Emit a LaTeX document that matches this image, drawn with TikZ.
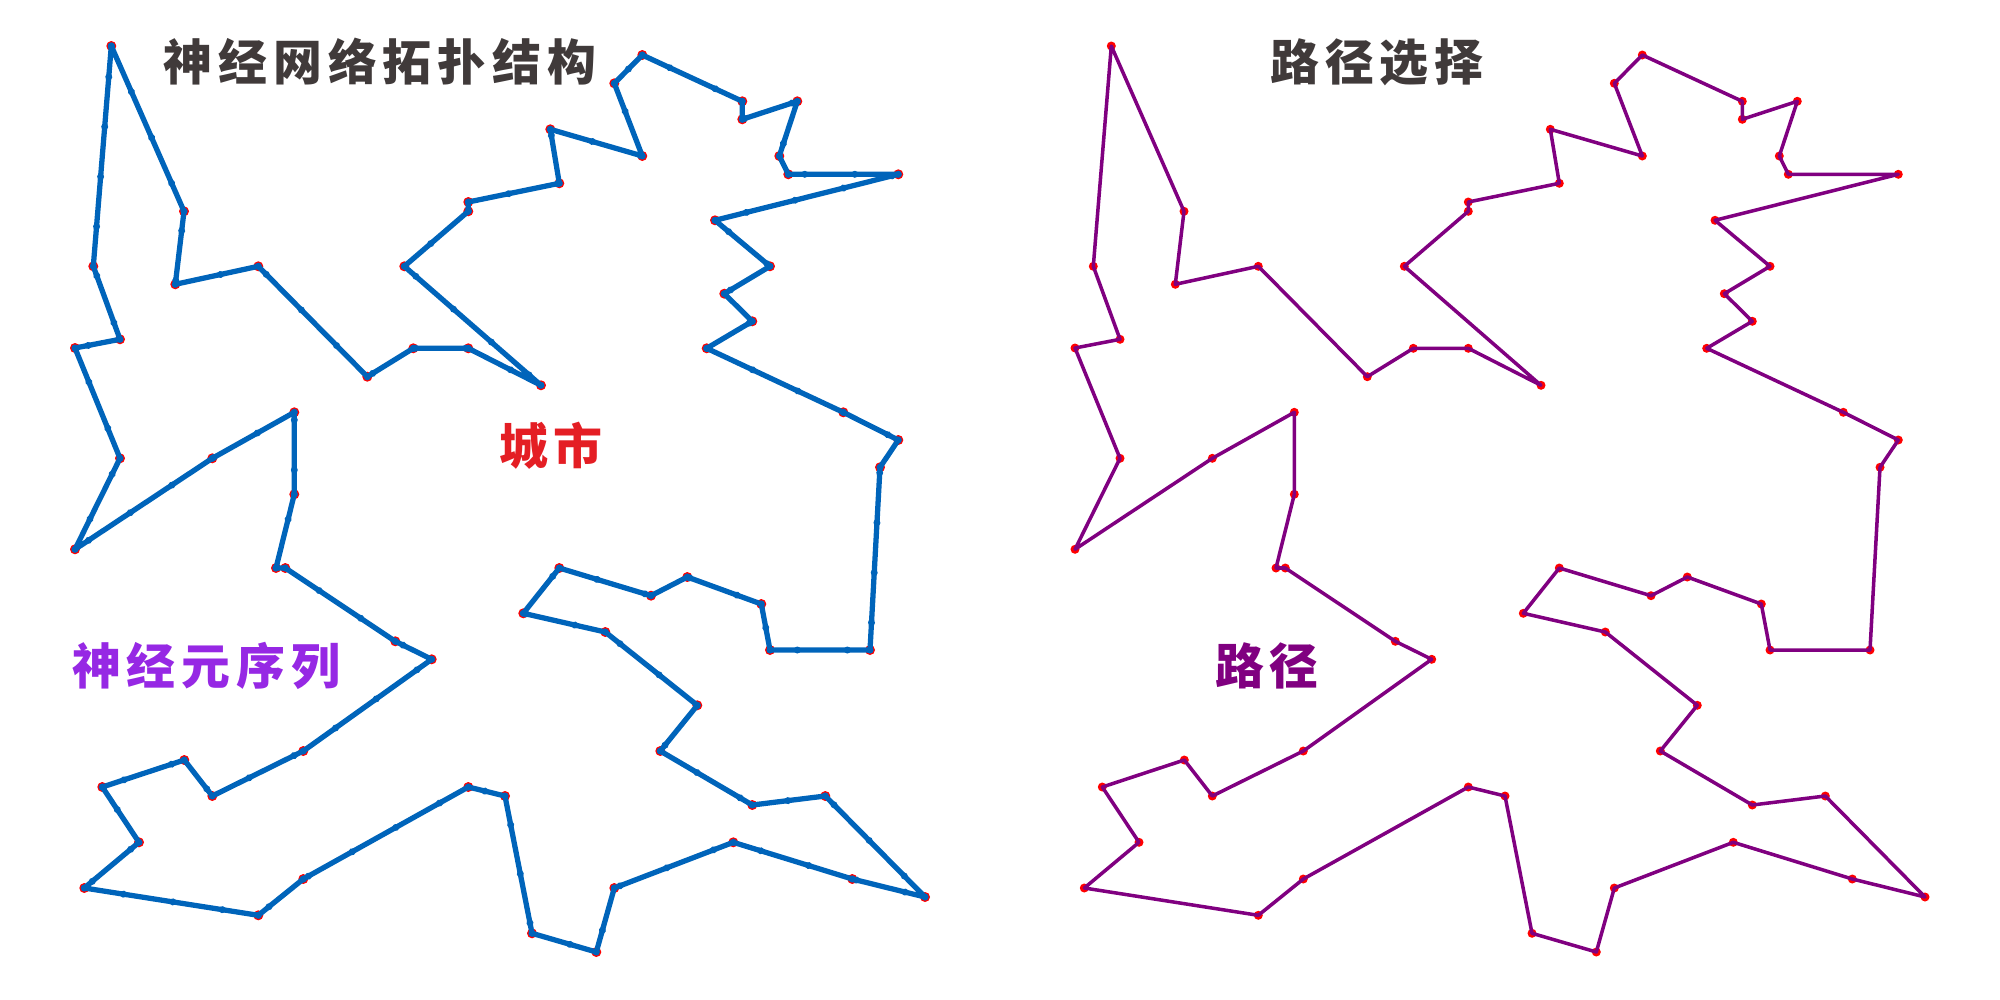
\documentclass[tikz,border=0pt]{standalone}
\usepackage{fontspec}
\newfontfamily\cjk[LetterSpace=12]{Noto Sans CJK SC}
\usetikzlibrary{decorations.markings}
\definecolor{netblue}{RGB}{0,100,186}
\definecolor{routepurple}{RGB}{128,0,128}
\definecolor{cityred}{RGB}{255,0,0}
\definecolor{titlegray}{RGB}{64,58,58}
\definecolor{labelred}{RGB}{228,30,36}
\definecolor{labelviolet}{RGB}{150,40,228}
% city positions, in tour order (pixels of one panel)
\newcommand{\citylist}{111.3/46, 184/211.3, 175.3/284.3, 258.3/266.3, 367.3/376.7,
  413.3/348.3, 468.3/348.3, 541/385.3, 404.3/266.3, 468.3/211.3, 468.3/202,
  559.3/183.3, 550.3/129.3, 642.3/156, 614.3/83.3, 642.3/55, 742.3/101.3,
  742.3/119.3, 797.3/101.3, 779.3/156, 788.3/174.3, 898.3/174.3, 715/220.3,
  770/266.3, 724.3/293.7, 752.3/321.3, 706.7/348.3, 843.3/412.3, 898.3/440,
  880/467.3, 870/650, 770/650, 761.3/604, 687.3/577, 651/595.7, 559.3/568,
  523.3/613.3, 605.3/632, 697.3/705.3, 660.3/751, 752.3/805, 825.3/796,
  925/897, 852.3/879, 733.3/842.3, 614.3/888, 596.3/952, 532/933.3, 505/796,
  468.3/787, 303.3/879, 258.3/915.3, 84.3/888, 139/842.3, 102.3/787,
  184.3/760, 212.3/796, 303.3/751, 431.7/659.3, 395.3/641.3, 285.3/568,
  276/568, 294.3/494.3, 294.3/412.3, 212.3/458.3, 75/549.3, 120/458.3,
  75/348, 120/339.3, 93.3/266.3}

\begin{document}
\begin{tikzpicture}[x=0.01cm,y=-0.01cm,
    title/.style={font=\cjk\bfseries\fontsize{13.9}{16}\selectfont,text=titlegray},
    tag/.style={font=\cjk\bfseries\fontsize{13.9}{16}\selectfont},
    neuronpath/.style={draw=netblue,line width=1.5pt,line join=round,postaction={decorate},
      decoration={markings,mark=between positions 0 and 1 step 0.5cm with {\fill[netblue] (0,0) circle (0.035cm);}}},
    routepath/.style={draw=routepurple,line width=1pt,line join=round}]
  \useasboundingbox (0,0) rectangle (2000,1000);
  \foreach \x/\y [count=\i] in \citylist {
    \coordinate (n\i) at (\x,\y);
    \coordinate (r\i) at (\x+1000,\y);
  }

  % left: neuron ring over the cities
  \foreach \i in {1,...,70} {\fill[cityred] (n\i) circle (5);}
  \path[neuronpath] (n1) \foreach \i in {2,...,70} {-- (n\i)} -- cycle;
  \foreach \i in {1,...,70} {\fill[netblue] (n\i) circle (3.6);}

  % right: chosen tour
  \foreach \i in {1,...,70} {\fill[cityred] (r\i) circle (4.5);}
  \path[routepath] (r1) \foreach \i in {2,...,70} {-- (r\i)} -- cycle;

  \node[title] (nettitle) at (380,62) {神经网络拓扑结构};
  \node[title] (routetitle) at (1377,62) {路径选择};
  \node[tag,text=labelred] (citytag) at (551,446) {城市};
  \node[tag,text=labelviolet] (neurontag) at (206,666) {神经元序列};
  \node[tag,text=routepurple] (routetag) at (1267,666) {路径};
\end{tikzpicture}
\end{document}
